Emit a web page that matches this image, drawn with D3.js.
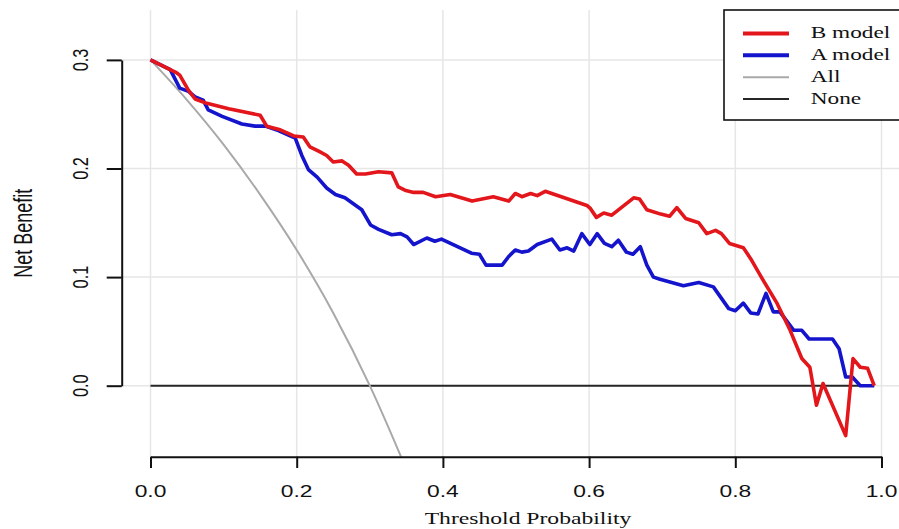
<!DOCTYPE html>
<html>
<head>
<meta charset="utf-8">
<script src="https://cdn.jsdelivr.net/npm/d3@7"></script>
<style>
  html, body { margin: 0; padding: 0; background: #fff; }
  svg { display: block; }
</style>
</head>
<body>
<svg id="chart" width="899" height="529"></svg>
<script>
// Decision curve: net benefit against threshold probability
const thresholdsB = [0, 0.036, 0.040, 0.052, 0.061, 0.077, 0.107, 0.150, 0.159, 0.176, 0.196, 0.209, 0.218, 0.230, 0.241,
  0.250, 0.262, 0.271, 0.282, 0.294, 0.312, 0.330, 0.339, 0.348, 0.360, 0.373, 0.390, 0.410, 0.440, 0.469, 0.490,
  0.499, 0.508, 0.520, 0.529, 0.540, 0.597, 0.602, 0.610, 0.620, 0.631, 0.661, 0.669, 0.679, 0.698, 0.710, 0.720,
  0.732, 0.750, 0.761, 0.773, 0.781, 0.792, 0.811, 0.821, 0.839, 0.857, 0.875, 0.891, 0.902, 0.911, 0.920, 0.951,
  0.961, 0.971, 0.981, 0.990];
const netBenefitB = [0.300, 0.288, 0.286, 0.272, 0.264, 0.260, 0.255, 0.249, 0.239, 0.236, 0.230, 0.229, 0.220, 0.216, 0.212,
  0.206, 0.207, 0.203, 0.195, 0.195, 0.197, 0.196, 0.183, 0.180, 0.178, 0.178, 0.174, 0.176, 0.170, 0.174, 0.170,
  0.177, 0.174, 0.177, 0.175, 0.179, 0.166, 0.163, 0.155, 0.159, 0.157, 0.173, 0.172, 0.162, 0.158, 0.156, 0.164,
  0.154, 0.150, 0.140, 0.143, 0.140, 0.131, 0.127, 0.117, 0.096, 0.076, 0.051, 0.025, 0.017, -0.018, 0.002, -0.046,
  0.025, 0.017, 0.016, 0.000];

const thresholdsA = [0, 0.027, 0.040, 0.052, 0.061, 0.072, 0.079, 0.098, 0.125, 0.143, 0.157, 0.175, 0.198, 0.207, 0.216,
  0.228, 0.241, 0.253, 0.266, 0.289, 0.301, 0.312, 0.330, 0.342, 0.351, 0.360, 0.378, 0.389, 0.398, 0.439, 0.450,
  0.459, 0.481, 0.490, 0.499, 0.508, 0.517, 0.529, 0.549, 0.560, 0.570, 0.579, 0.590, 0.601, 0.611, 0.621, 0.631,
  0.640, 0.651, 0.660, 0.670, 0.679, 0.688, 0.697, 0.729, 0.750, 0.770, 0.791, 0.800, 0.811, 0.821, 0.831, 0.842,
  0.852, 0.861, 0.880, 0.891, 0.901, 0.933, 0.942, 0.951, 0.960, 0.971, 0.990];
const netBenefitA = [0.300, 0.291, 0.274, 0.271, 0.266, 0.263, 0.254, 0.248, 0.241, 0.239, 0.239, 0.235, 0.228, 0.212, 0.199,
  0.192, 0.182, 0.176, 0.173, 0.162, 0.148, 0.144, 0.139, 0.140, 0.137, 0.130, 0.136, 0.133, 0.135, 0.122, 0.121,
  0.111, 0.111, 0.119, 0.125, 0.123, 0.124, 0.130, 0.135, 0.125, 0.127, 0.124, 0.140, 0.130, 0.140, 0.131, 0.128,
  0.134, 0.123, 0.121, 0.128, 0.111, 0.100, 0.098, 0.092, 0.095, 0.091, 0.071, 0.069, 0.076, 0.067, 0.066, 0.085,
  0.068, 0.068, 0.051, 0.051, 0.043, 0.043, 0.034, 0.008, 0.008, 0.000, 0.000];

const thresholdsAll = [0, 0.05, 0.10, 0.15, 0.20, 0.25, 0.30, 0.35];
const netBenefitAll = [0.300, 0.263, 0.222, 0.176, 0.125, 0.067, 0.000, -0.077];

const thresholdsNone = [0, 0.99];
const netBenefitNone = [0, 0];

const xTicks = [0, 0.2, 0.4, 0.6, 0.8, 1.0];
const xTickLabels = ["0.0", "0.2", "0.4", "0.6", "0.8", "1.0"];
const yTicks = [0, 0.1, 0.2, 0.3];
const yTickLabels = ["0.0", "0.1", "0.2", "0.3"];

const legendLabels = ["B model", "A model", "All", "None"];
const legendColors = ["#e3161c", "#1414cc", "#a9a9a9", "#262626"];
const legendWidths = [4, 4, 2, 2];

const xTitle = "Threshold Probability";
const yTitle = "Net Benefit";

// ---- layout ----
const svg = d3.select("#chart");
const W = 899, H = 529;
const x = d3.scaleLinear().domain([0, 1]).range([150.5, 881.5]);
const y = d3.scaleLinear().domain([0, 0.3]).range([385.7, 59.9]);
const plotLeft = x(-0.04), plotTop = 10, plotBottom = 456.7;
const sx = 1.4; // horizontal stretch of the lettering

const SANS = "'Liberation Sans', Arial, sans-serif";
const SERIF = "'Liberation Serif', 'Times New Roman', serif";

// grid
const grid = svg.append("g").attr("stroke", "#e6e6e6").attr("stroke-width", 1.5);
grid.selectAll("line.v").data(xTicks).join("line")
  .attr("class", "v")
  .attr("x1", d => x(d)).attr("x2", d => x(d))
  .attr("y1", plotTop).attr("y2", plotBottom);
grid.selectAll("line.h").data(yTicks).join("line")
  .attr("class", "h")
  .attr("x1", plotLeft).attr("x2", W + 20)
  .attr("y1", d => y(d)).attr("y2", d => y(d));

// clip to the plotting region
svg.append("clipPath").attr("id", "plotClip")
  .append("rect")
  .attr("x", plotLeft).attr("y", plotTop)
  .attr("width", W + 50 - plotLeft).attr("height", plotBottom - plotTop);

const lines = svg.append("g").attr("clip-path", "url(#plotClip)");
const lineGen = d3.line().x(d => x(d[0])).y(d => y(d[1]));
const smoothGen = d3.line().x(d => x(d[0])).y(d => y(d[1])).curve(d3.curveMonotoneX);

const zip = (a, b) => a.map((t, i) => [t, b[i]]);

lines.append("path").datum(zip(thresholdsNone, netBenefitNone))
  .attr("d", lineGen).attr("fill", "none")
  .attr("stroke", legendColors[3]).attr("stroke-width", 2);

lines.append("path").datum(zip(thresholdsAll, netBenefitAll))
  .attr("d", smoothGen).attr("fill", "none")
  .attr("stroke", legendColors[2]).attr("stroke-width", 2);

lines.append("path").datum(zip(thresholdsA, netBenefitA))
  .attr("d", lineGen).attr("fill", "none")
  .attr("stroke", legendColors[1]).attr("stroke-width", 3.6)
  .attr("stroke-linejoin", "round");

lines.append("path").datum(zip(thresholdsB, netBenefitB))
  .attr("d", lineGen).attr("fill", "none")
  .attr("stroke", legendColors[0]).attr("stroke-width", 3.6)
  .attr("stroke-linejoin", "round");

// axes
const xAxis = svg.append("g")
  .attr("transform", `translate(0,${plotBottom})`)
  .call(d3.axisBottom(x).tickValues(xTicks).tickSize(11.3).tickSizeOuter(0).tickFormat(""));
const yAxis = svg.append("g")
  .attr("transform", `translate(121.7,0)`)
  .call(d3.axisLeft(y).tickValues(yTicks).tickSize(15).tickSizeOuter(0).tickFormat(""));
[xAxis, yAxis].forEach(a => {
  a.selectAll("path, line").attr("stroke", "#111").attr("stroke-width", 2);
});

// tick labels
svg.append("g").selectAll("text").data(xTicks).join("text")
  .attr("transform", d => `translate(${x(d)},496.5) scale(${sx},1)`)
  .attr("text-anchor", "middle")
  .attr("font-family", SANS).attr("font-size", 16.3).attr("fill", "#111")
  .text((d, i) => xTickLabels[i]);

svg.append("g").selectAll("text").data(yTicks).join("text")
  .attr("transform", d => `translate(88.3,${y(d)}) scale(${sx},1) rotate(-90)`)
  .attr("text-anchor", "middle")
  .attr("font-family", SANS).attr("font-size", 16.3).attr("fill", "#111")
  .text((d, i) => yTickLabels[i]);

// axis titles
svg.append("text")
  .attr("transform", `translate(528,523.5) scale(1.39,1)`)
  .attr("text-anchor", "middle")
  .attr("font-family", SERIF).attr("font-size", 17).attr("fill", "#111")
  .text(xTitle);

svg.append("text")
  .attr("transform", `translate(31.7,${(plotTop + plotBottom) / 2}) scale(${sx},1) rotate(-90)`)
  .attr("text-anchor", "middle")
  .attr("font-family", SANS).attr("font-size", 18).attr("fill", "#111")
  .text(yTitle);

// legend
const legend = svg.append("g");
legend.append("rect")
  .attr("x", 724).attr("y", 10).attr("width", 220).attr("height", 110)
  .attr("fill", "#fff").attr("stroke", "#111").attr("stroke-width", 1.6);
const rows = legend.selectAll("g.row").data(legendLabels).join("g")
  .attr("class", "row")
  .attr("transform", (d, i) => `translate(0,${33.4 + i * 21.9})`);
rows.append("line")
  .attr("x1", 743).attr("x2", 789).attr("y1", 0).attr("y2", 0)
  .attr("stroke", (d, i) => legendColors[i])
  .attr("stroke-width", (d, i) => legendWidths[i]);
rows.append("text")
  .attr("transform", `translate(810.7,4.4) scale(1.37,1)`)
  .attr("font-family", SERIF).attr("font-size", 17).attr("fill", "#111")
  .text(d => d);
</script>
</body>
</html>
